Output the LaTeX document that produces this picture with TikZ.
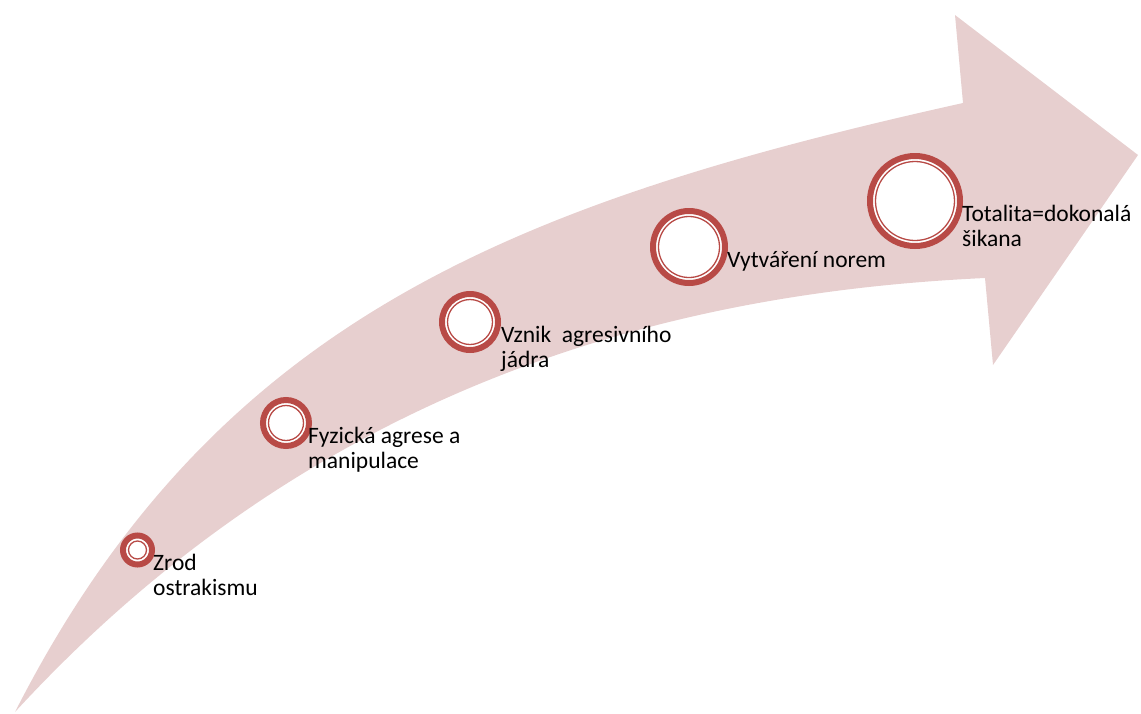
\documentclass[tikz,border=0pt]{standalone}
\usepackage{fontspec}
\setmainfont{Carlito}
\usetikzlibrary{positioning}
\definecolor{ringred}{RGB}{184,74,70}
\definecolor{arrowpink}{RGB}{231,207,207}
\tikzstyle{stage}=[circle, draw=ringred, line width=6pt, fill=white, inner sep=0pt]
\tikzstyle{stagetext}=[align=left, inner sep=0pt, font=\fontsize{23.5}{25}\selectfont]

\begin{document}
\begin{tikzpicture}[x=1pt,y=-1pt]
\useasboundingbox (0,0) rectangle (1141,713);
% the big curved arrow
\fill[arrowpink] (15,712) .. controls (214.5,320) and (513,203) .. (963,103)
  -- (955,15) -- (1138,155) -- (993,365) -- (985,278)
  .. controls (685,292) and (324,376) .. (15,712) -- cycle;
% stages
\node [stage, minimum size=29pt] (zrod) at (137.5,550) {};
\node [stage, minimum size=46pt] (agrese) at (286,423) {};
\node [stage, minimum size=56pt] (jadro) at (470,322) {};
\node [stage, minimum size=72pt] (normy) at (689,247) {};
\node [stage, minimum size=90pt] (totalita) at (915,201) {};
\foreach \n/\r in {zrod/9, agrese/17.5, jadro/22.5, normy/30.5, totalita/39.5}
  \draw[ringred, line width=1.3pt] (\n.center) circle (\r pt);
% texts
\node [stagetext] (zrodtxt) [below right=4pt and -2pt of zrod.east] {Zrod\\ostrakismu};
\node [stagetext] (agresetxt) [below right=4pt and -4pt of agrese.east] {Fyzická agrese a\\manipulace};
\node [stagetext] (jadrotxt) [below right=4pt and 0pt of jadro.east] {Vznik~~agresivního\\jádra};
\node [stagetext] (normytxt) [below right=4pt and -1pt of normy.east] {Vytváření norem};
\node [stagetext] (totalitatxt) [below right=4pt and -1pt of totalita.east] {Totalita=dokonalá\\šikana};
\end{tikzpicture}
\end{document}
